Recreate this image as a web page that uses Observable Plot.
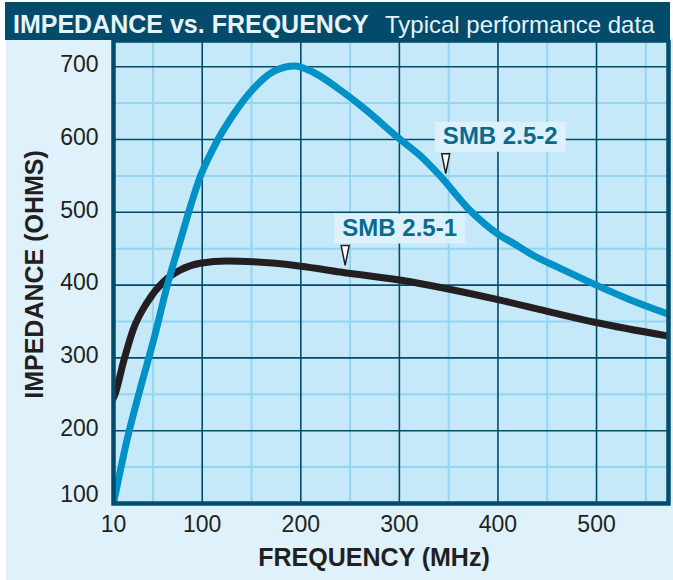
<!DOCTYPE html>
<html>
<head>
<meta charset="utf-8">
<script src="https://cdn.jsdelivr.net/npm/d3@7"></script>
<script src="https://cdn.jsdelivr.net/npm/@observablehq/plot@0.6"></script>
<style>
  html, body { margin: 0; padding: 0; background: #ffffff; }
  #chart { position: relative; width: 673px; height: 580px; overflow: hidden; font-family: "Liberation Sans", Arial, sans-serif; }
  #panel { position: absolute; left: 6px; top: 38px; width: 667px; height: 542px; background: #dff1fb; }
  #bar { position: absolute; left: 5px; top: 2px; width: 665px; height: 38px; background: #034b6b; color: #e6f3fa; }
  #title { position: absolute; left: 8px; top: 10px; font-size: 25px; line-height: 25px; font-weight: bold; white-space: nowrap; }
  #subtitle { position: absolute; left: 380px; top: 10.5px; font-size: 24px; line-height: 24px; white-space: nowrap; }
  #plot { position: absolute; left: 0; top: 40px; }
</style>
</head>
<body>
<div id="chart">
  <div id="panel"></div>
  <div id="bar"><span id="title">IMPEDANCE vs. FREQUENCY</span><span id="subtitle">Typical performance data</span></div>
  <div id="plot"></div>
</div>
<script>
// SMB 2.5-1 (black curve)
const freqA = [10, 12, 20, 30, 44, 61, 78, 98, 125, 152, 200, 240, 300, 400, 450, 498, 573];
const impA  = [245, 252, 294, 339, 376, 405, 421, 430, 433, 432, 426, 418, 407, 380, 364, 349, 330];
// SMB 2.5-2 (blue curve)
const freqB = [10, 24, 37, 51, 65, 78, 88, 98, 112, 132, 152, 173, 194, 213, 240, 264, 300, 325, 340, 372, 400, 415, 437, 460, 498, 532, 573];
const impB  = [100, 189, 257, 326, 402, 462, 508, 549, 590, 635, 670, 694, 701, 692, 668, 643, 601, 573, 552, 502, 470, 458, 440, 425, 401, 381, 360];

const xTicks = [10, 100, 200, 300, 400, 500];
const yTicks = [100, 200, 300, 400, 500, 600, 700];
const xMinor = [50, 150, 250, 350, 450, 550];
const yMinor = [150, 250, 350, 450, 550, 650];

const labelNames = ["SMB 2.5-2", "SMB 2.5-1"];
const labelFreq = [347, 245];
const labelImp = [553, 427];

const seriesA = freqA.map((f, i) => ({freq: f, imp: impA[i]}));
const seriesB = freqB.map((f, i) => ({freq: f, imp: impB[i]}));
const labels = labelNames.map((n, i) => ({name: n, freq: labelFreq[i], imp: labelImp[i]}));

const dark = "#034b6b";
const minor = "#93d5f3";

const triangle = { draw(ctx) { ctx.moveTo(-4, -20); ctx.lineTo(4, -20); ctx.lineTo(0, 0); ctx.closePath(); } };
const box = { draw(ctx) { ctx.rect(-11, -52, 131, 30); } };

const chart = Plot.plot({
  width: 673,
  height: 540,
  marginLeft: 113,
  marginRight: 5,
  marginTop: 0,
  marginBottom: 77,
  style: { background: "transparent", fontFamily: "'Liberation Sans', Arial, sans-serif", fontSize: "23px", color: "#231f20" },
  x: { domain: [10, 573] },
  y: { domain: [100, 736] },
  marks: [
    Plot.frame({ fill: "#c6e9f9", stroke: null }),
    Plot.ruleX(xMinor, { stroke: minor, strokeWidth: 2 }),
    Plot.ruleY(yMinor, { stroke: minor, strokeWidth: 2 }),
    Plot.ruleX(xTicks.filter(d => d > 10), { stroke: dark, strokeWidth: 1.6 }),
    Plot.ruleY(yTicks.filter(d => d > 100), { stroke: dark, strokeWidth: 1.6 }),
    Plot.line(seriesA, { x: "freq", y: "imp", stroke: "#231f20", strokeWidth: 7, curve: "monotone-x", clip: true }),
    Plot.line(seriesB, { x: "freq", y: "imp", stroke: "#0091c7", strokeWidth: 7, curve: "monotone-x", clip: true }),
    Plot.frame({ stroke: dark, strokeWidth: 4.5 }),
    Plot.axisX({ ticks: xTicks, tickSize: 0, tickPadding: 12, fontSize: 23, label: null }),
    Plot.axisY({ ticks: yTicks.filter(d => d > 100), tickSize: 0, tickPadding: 15, fontSize: 23, label: null, dy: -2 }),
    Plot.axisY({ ticks: yTicks.filter(d => d === 100), tickSize: 0, tickPadding: 15, fontSize: 23, label: null, dy: -9 }),
    Plot.text(["FREQUENCY (MHz)"], { frameAnchor: "bottom", textAnchor: "middle", lineAnchor: "middle", dx: -17, dy: 54, fontSize: 25, fontWeight: "bold", fill: "#231f20" }),
    Plot.text(["IMPEDANCE (OHMS)"], { frameAnchor: "left", textAnchor: "middle", lineAnchor: "middle", rotate: -90, dx: -79, dy: 2.5, fontSize: 25, fontWeight: "bold", fill: "#231f20" }),
    Plot.dot(labels, { x: "freq", y: "imp", symbol: box, fill: "#dcf1fb", stroke: null }),
    Plot.dot(labels, { x: "freq", y: "imp", symbol: triangle, fill: "white", stroke: "#231f20", strokeWidth: 1.5 }),
    Plot.text(labels, { x: "freq", y: "imp", text: "name", dx: 54.5, dy: -37, textAnchor: "middle", lineAnchor: "middle", fontSize: 24, fontWeight: "bold", fill: "#0a6a8f" })
  ]
});
document.getElementById("plot").appendChild(chart);
</script>
</body>
</html>
